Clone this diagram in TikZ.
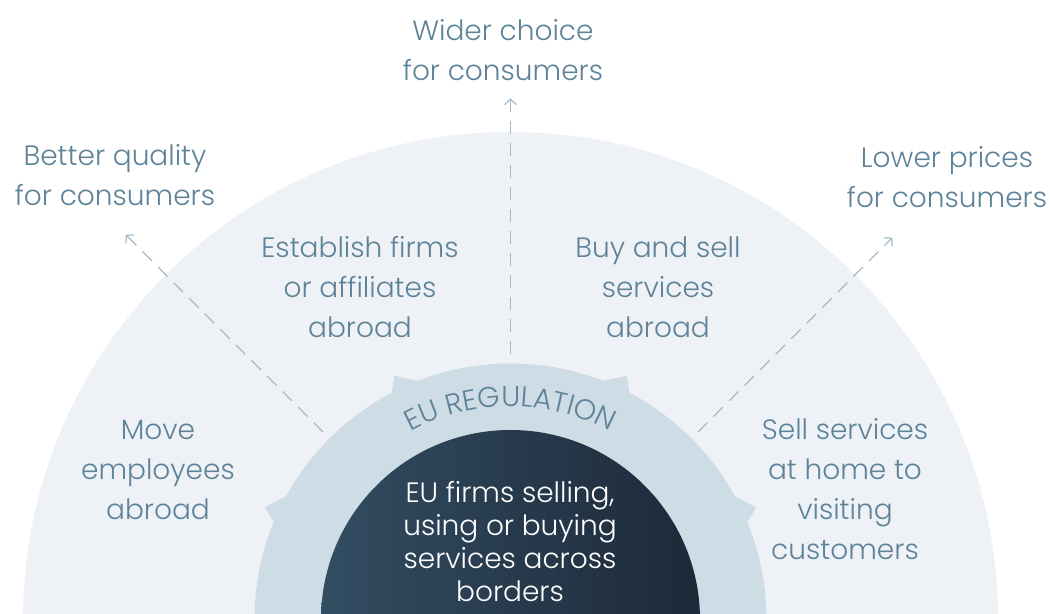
\documentclass[tikz,border=0pt]{standalone}
\usepackage{fontspec}
\setmainfont{Poppins Light}
\usetikzlibrary{arrows.meta,decorations.text}
\definecolor{txt}{RGB}{94,131,153}
\definecolor{outerc}{RGB}{238,242,247}
\definecolor{ringc}{RGB}{206,220,229}
\definecolor{dashc}{RGB}{163,186,201}
\definecolor{inL}{RGB}{50,77,98}
\definecolor{inR}{RGB}{29,41,57}

\begin{document}
\begin{tikzpicture}[
        x=0.75pt, y=0.75pt,
        lbl/.style={text=txt, align=center, font=\fontsize{21}{30}\selectfont},
        inlbl/.style={text=white, align=center, font=\fontsize{21}{24.75}\selectfont},
        dasharr/.style={draw=dashc, line width=0.9pt, dash pattern=on 10pt off 6.5pt, -{Straight Barb[length=4pt,width=9pt]}}
    ]
    \useasboundingbox (0,0) rectangle (1051,614);
    \clip (0,0) rectangle (1051,614);
    \coordinate (O) at (510.5,-5.5);
    \fill[outerc] (O) circle[radius=487.5];
    % dashed arrows
    \coordinate (L0) at ([shift={(135:265)}]O);
    \coordinate (L1) at ([shift={(135:544)}]O);
    \coordinate (T0) at ([shift={(90:265)}]O);
    \coordinate (T1) at ([shift={(90:521)}]O);
    \coordinate (R0) at ([shift={(45:265)}]O);
    \coordinate (R1) at ([shift={(45:540)}]O);
    \draw[dasharr] (L0) -- (L1);
    \draw[dasharr] (T0) -- (T1);
    \draw[dasharr] (R0) -- (R1);
    % regulation ring
    \fill[ringc] (O) circle[radius=256];
    \foreach \a in {115.5,155.5}
        \fill[ringc] ([shift={(\a+2.5:254)}]O) -- ([shift={(\a:270)}]O) -- ([shift={(\a-5:254)}]O) -- cycle;
    \foreach \a in {64.5,24.5}
        \fill[ringc] ([shift={(\a-2.5:254)}]O) -- ([shift={(\a:270)}]O) -- ([shift={(\a+5:254)}]O) -- cycle;
    \path[decorate, decoration={text along path, text color=txt, text align=center,
        text={|\fontsize{21.5}{21.5}\selectfont|EU REGULATION}}]
        ([shift={(165:213)}]O) arc[start angle=165, end angle=15, radius=213];
    \shade[left color=inL, right color=inR] ([shift={(0:189.5)}]O) arc[start angle=0, end angle=180, radius=189.5] -- cycle;
    % labels
    \node[inlbl] (firms) at (510,72) {EU firms selling,\\using or buying\\services across\\borders};
    \node[lbl] (wider) at (503,564) {Wider choice\\for consumers};
    \node[lbl] (better) at (115,439) {Better quality\\for consumers};
    \node[lbl] (lower) at (947,437) {Lower prices\\for consumers};
    \node[lbl] (establish) at (360,327) {Establish firms\\or affiliates\\abroad};
    \node[lbl] (buysell) at (658,327) {Buy and sell\\services\\abroad};
    \node[lbl] (move) at (158,144) {Move\\employees\\abroad};
    \node[lbl] (sell) at (845,125) {Sell services\\at home to\\visiting\\customers};
\end{tikzpicture}
\end{document}
